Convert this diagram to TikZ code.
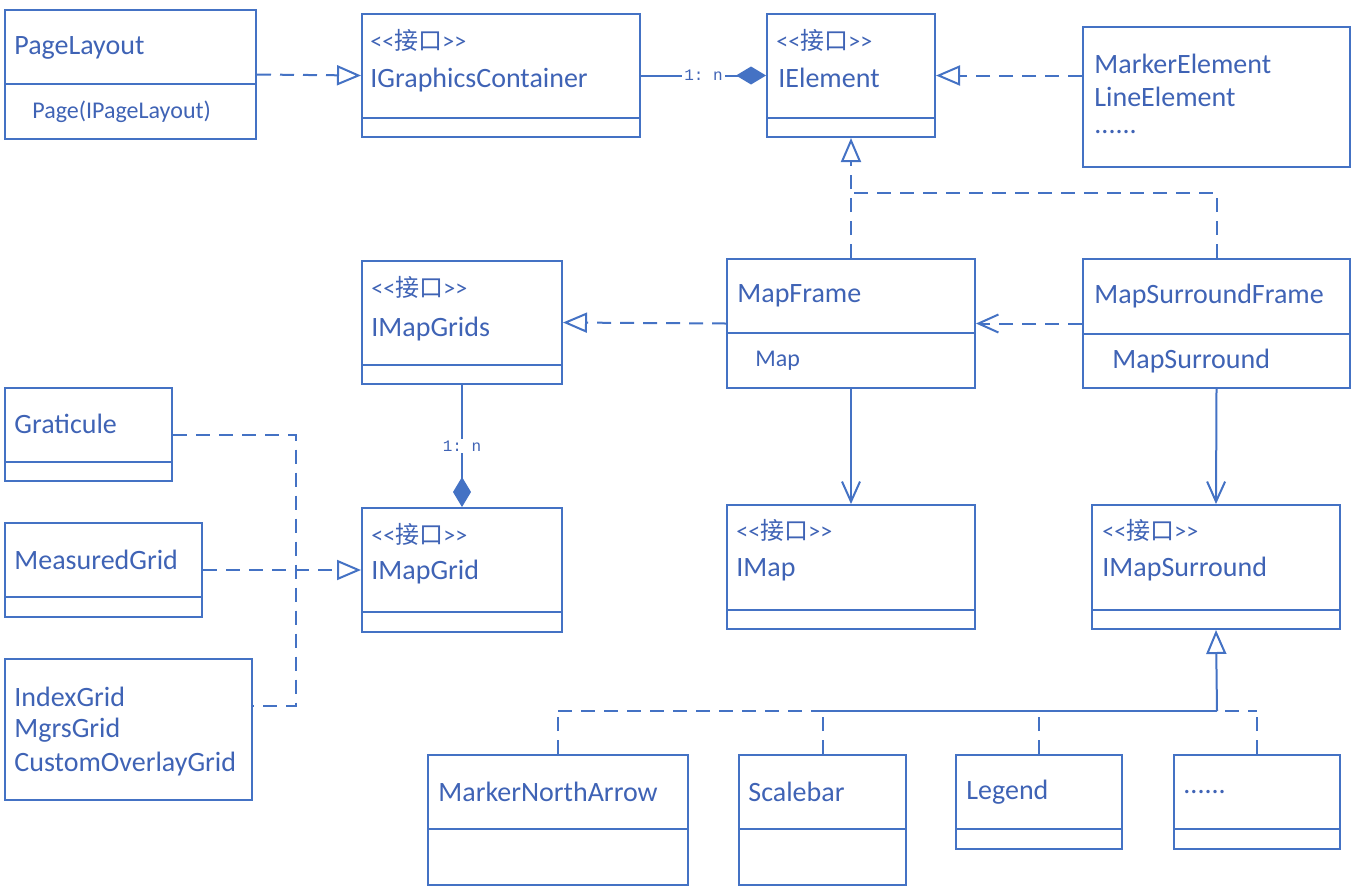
\documentclass[tikz,border=0pt]{standalone}
\usepackage{fontspec}
\setmainfont{Carlito}
\setmonofont{Liberation Mono}
\newfontfamily\cjk{Noto Sans CJK SC}
\usetikzlibrary{arrows.meta,fit}

\definecolor{umlblue}{HTML}{4472C4}
\definecolor{umltext}{HTML}{3F63B5}

\newcommand{\stereo}{<{}<{\cjk 接口}>{}>}

\tikzset{
  cls/.style={draw=umlblue, line width=1pt, inner sep=0pt},
  ln/.style={draw=umlblue, line width=1pt},
  dsh/.style={ln, dash pattern=on 7pt off 4.5pt},
  gen/.style={-{Triangle[open, length=12pt, width=10pt, line width=1pt]}},
  dep/.style={-{Straight Barb[length=10pt, width=9pt, line width=1pt]}},
  comp/.style={-{Diamond[length=15pt, width=9pt, fill=umlblue]}},
  mult/.style={fill=white, inner sep=1pt, text=umltext, font=\ttfamily\fontsize{8}{9}\selectfont},
  clsname/.style={anchor=west, inner sep=0pt, text=umltext, font=\fontsize{14}{16}\selectfont},
  small/.style={anchor=west, inner sep=0pt, text=umltext, font=\fontsize{12}{14}\selectfont}
}

\begin{document}
\begin{tikzpicture}[x=0.5pt, y=-0.5pt]
\useasboundingbox (0,0) rectangle (1354,895);

% Klassen
\node[cls, fit={(5,10) (256,139)}] (pl) {};
\node[cls, fit={(362,14) (640,137)}] (igc) {};
\node[cls, fit={(767,14) (935,137)}] (ie) {};
\node[cls, fit={(1083,27) (1350,167)}] (me) {};
\node[cls, fit={(362,261) (562,384)}] (imgs) {};
\node[cls, fit={(727,259) (975,388)}] (mf) {};
\node[cls, fit={(1083,259) (1350,388)}] (msf) {};
\node[cls, fit={(5,388) (172,481)}] (gr) {};
\node[cls, fit={(5,523) (202,617)}] (mg) {};
\node[cls, fit={(5,659) (252,800)}] (ig) {};
\node[cls, fit={(362,508) (562,632)}] (img) {};
\node[cls, fit={(727,505) (975,629)}] (im) {};
\node[cls, fit={(1092,505) (1340,629)}] (ims) {};
\node[cls, fit={(428,755) (688,885)}] (mna) {};
\node[cls, fit={(739,755) (906,885)}] (sb) {};
\node[cls, fit={(956,755) (1122,849)}] (lg) {};
\node[cls, fit={(1174,755) (1340,849)}] (etc) {};

% Trennlinien
\foreach \c/\y in {pl/84, igc/118, ie/118, imgs/365, mf/333, msf/334, gr/462,
                   mg/597, img/612, im/610, ims/610, mna/829, sb/829, lg/829, etc/829}
  \draw[ln] (\c.west |- 0,\y) -- (\c.east |- 0,\y);

% Texte
\node[clsname] (pl-n) at (14,48) {PageLayout};
\node[small] (pl-a) at (32,112) {Page(IPageLayout)};
\node[small] (igc-s) at (370,40) {\stereo};
\node[clsname] (igc-n) at (370,80) {IGraphicsContainer};
\node[small] (ie-s) at (776,40) {\stereo};
\node[clsname] (ie-n) at (778,78) {IElement};
\node[clsname] (me-1) at (1094,64) {MarkerElement};
\node[clsname] (me-2) at (1094,97) {LineElement};
\node[clsname] (me-3) at (1094,132) {......};
\node[small] (imgs-s) at (371,287) {\stereo};
\node[clsname] (imgs-n) at (371,329) {IMapGrids};
\node[clsname] (mf-n) at (737,296) {MapFrame};
\node[small] (mf-a) at (755,361) {Map};
\node[clsname] (msf-n) at (1094,296) {MapSurroundFrame};
\node[clsname] (msf-a) at (1112,361) {MapSurround};
\node[clsname] (gr-n) at (14,424) {Graticule};
\node[clsname] (mg-n) at (14,560) {MeasuredGrid};
\node[clsname] (ig-1) at (14,697) {IndexGrid};
\node[clsname] (ig-2) at (14,730) {MgrsGrid};
\node[clsname] (ig-3) at (14,764) {CustomOverlayGrid};
\node[small] (img-s) at (371,534) {\stereo};
\node[clsname] (img-n) at (371,572) {IMapGrid};
\node[small] (im-s) at (736,530) {\stereo};
\node[clsname] (im-n) at (736,570) {IMap};
\node[small] (ims-s) at (1102,530) {\stereo};
\node[clsname] (ims-n) at (1102,569) {IMapSurround};
\node[clsname] (mna-n) at (438,792) {MarkerNorthArrow};
\node[clsname] (sb-n) at (748,792) {Scalebar};
\node[clsname] (lg-n) at (966,792) {Legend};
\node[clsname] (etc-n) at (1183,792) {......};

% Beziehungen oben
\draw[dsh, gen] (pl.east) -- (igc.west);
\draw[ln, comp] (igc.east) -- node[mult] (m1) {1: n} (ie.west);
\draw[dsh, gen] (me.west |- ie.east) -- (ie.east);

\coordinate (ebus) at (851,193);
\draw[dsh] (msf.north) |- (ebus);
\draw[dsh, gen] (mf.north) -- (ie.south);

\draw[dsh, dep] (msf.west) -- (mf.east);
\draw[dsh, gen] (mf.west) -- (imgs.east);
\draw[ln, dep] (mf.south) -- (im.north);
\draw[ln, dep] (msf.south) -- (ims.north);

% Gitter
\draw[ln, comp] (imgs.south) -- node[mult] (m2) {1: n} (img.north);
\coordinate (gbus) at (296,706);
\draw[dsh] (gr.east) -| (gbus) -- (ig.east |- gbus);
\draw[dsh, gen] (mg.east) -- (img.west |- mg.east);

% Kartenelemente
\coordinate (sbus) at (1217,711);
\foreach \c in {mna, sb, lg, etc}
  \draw[dsh] (\c.north) -- (\c.north |- sbus);
\draw[dsh] (mna.north |- sbus) -- (etc.north |- sbus);
\draw[ln] (sb.north |- sbus) -- (sbus);
\draw[ln, gen] (sbus) -- (ims.south);

\end{tikzpicture}
\end{document}
